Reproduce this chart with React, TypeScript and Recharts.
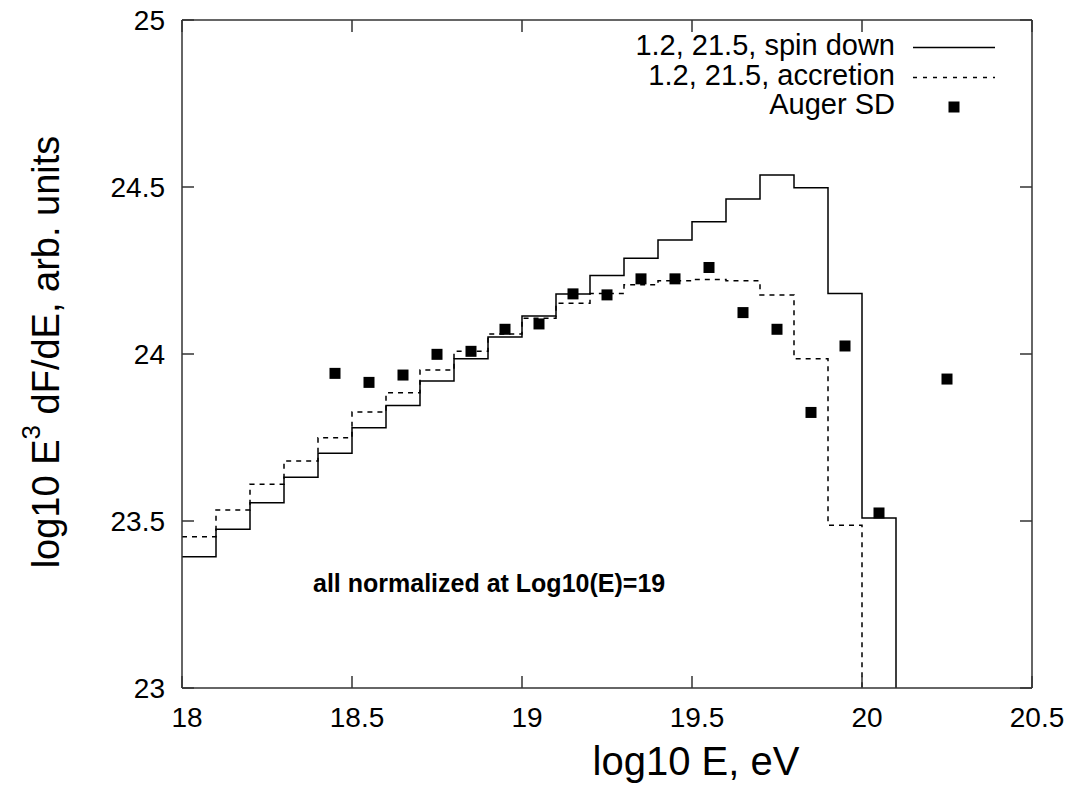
import React from 'react';
import { ComposedChart, Line, Scatter, XAxis, YAxis, Legend } from 'recharts';

// Bin left edges (log10 E) of the model histograms
const spinDownEdges = [18.0, 18.1, 18.2, 18.3, 18.4, 18.5, 18.6, 18.7, 18.8, 18.9, 19.0, 19.1, 19.2, 19.3, 19.4, 19.5, 19.6, 19.7, 19.8, 19.9, 20.0, 20.1];
const spinDownValues = [23.393, 23.475, 23.555, 23.631, 23.703, 23.779, 23.846, 23.919, 23.986, 24.051, 24.114, 24.18, 24.235, 24.287, 24.341, 24.396, 24.464, 24.536, 24.498, 24.181, 23.509, 23.0];

const accretionEdges = [18.0, 18.1, 18.2, 18.3, 18.4, 18.5, 18.6, 18.7, 18.8, 18.9, 19.0, 19.1, 19.2, 19.3, 19.4, 19.5, 19.6, 19.7, 19.8, 19.9, 20.0];
const accretionValues = [23.453, 23.533, 23.61, 23.68, 23.749, 23.826, 23.884, 23.952, 24.008, 24.06, 24.107, 24.152, 24.181, 24.207, 24.219, 24.223, 24.219, 24.177, 23.986, 23.487, 23.0];

const augerX = [18.45, 18.55, 18.65, 18.75, 18.85, 18.95, 19.05, 19.15, 19.25, 19.35, 19.45, 19.55, 19.65, 19.75, 19.85, 19.95, 20.05, 20.25];
const augerY = [23.942, 23.915, 23.937, 23.999, 24.008, 24.074, 24.09, 24.18, 24.177, 24.225, 24.225, 24.259, 24.124, 24.074, 23.825, 24.024, 23.524, 23.925];

const xTicks = [18, 18.5, 19, 19.5, 20, 20.5];
const yTicks = [23, 23.5, 24, 24.5, 25];

const legendLabels = ['1.2, 21.5, spin down', '1.2, 21.5, accretion', 'Auger SD'];
const annotation = 'all normalized at Log10(E)=19';
const xTitle = 'log10 E, eV';

const spinDownData = spinDownEdges.map((x, i) => ({ x, y: spinDownValues[i] }));
const accretionData = accretionEdges.map((x, i) => ({ x, y: accretionValues[i] }));
const augerData = augerX.map((x, i) => ({ x, y: augerY[i] }));

const FONT = '"Liberation Sans", Arial, Helvetica, sans-serif';
const AXIS = '#333';
const TICK_LEN = 12;

const BottomTick = (props: any) => {
  const { x, y, payload } = props;
  return (
    <g>
      <line x1={x} y1={y} x2={x} y2={y - TICK_LEN} stroke={AXIS} strokeWidth={1.5} />
      <text x={x + 5} y={y + 39} textAnchor="middle" fontSize={28} fontFamily={FONT} fill="#000">
        {String(payload.value)}
      </text>
    </g>
  );
};

const TopTick = (props: any) => {
  const { x, y } = props;
  return <line x1={x} y1={y} x2={x} y2={y + TICK_LEN} stroke={AXIS} strokeWidth={1.5} />;
};

const LeftTick = (props: any) => {
  const { x, y, payload } = props;
  return (
    <g>
      <line x1={x} y1={y} x2={x + TICK_LEN} y2={y} stroke={AXIS} strokeWidth={1.5} />
      <text x={x - 17} y={y + 10} textAnchor="end" fontSize={28} fontFamily={FONT} fill="#000">
        {String(payload.value)}
      </text>
    </g>
  );
};

const RightTick = (props: any) => {
  const { x, y } = props;
  return <line x1={x} y1={y} x2={x - TICK_LEN} y2={y} stroke={AXIS} strokeWidth={1.5} />;
};

const SquareDot = (props: any) => {
  const { cx, cy } = props;
  if (cx == null || cy == null) return null;
  return <rect x={cx - 5.5} y={cy - 5.5} width={11} height={11} fill="#000" />;
};

const LegendContent = () => (
  <svg width={1071} height={130} style={{ display: 'block' }}>
    <g fontFamily={FONT} fontSize={29} fill="#000">
      <text x={895} y={55} textAnchor="end">{legendLabels[0]}</text>
      <text x={895} y={85} textAnchor="end">{legendLabels[1]}</text>
      <text x={895} y={114} textAnchor="end">{legendLabels[2]}</text>
    </g>
    <line x1={913} y1={47.5} x2={995} y2={47.5} stroke="#000" strokeWidth={1.5} />
    <line x1={913} y1={77.5} x2={995} y2={77.5} stroke="#000" strokeWidth={1.5} strokeDasharray="4 6" />
    <rect x={948.5} y={101.5} width={11} height={11} fill="#000" />
  </svg>
);

const YTitle = () => (
  <text
    x={59}
    y={352}
    transform="rotate(-90, 59, 352)"
    textAnchor="middle"
    fontSize={38}
    fontFamily={FONT}
    fill="#000"
  >
    log10 E<tspan dy={-19} fontSize={26}>3</tspan>
    <tspan dy={19}> dF/dE, arb. units</tspan>
  </text>
);

const XTitle = () => (
  <text x={696} y={775} textAnchor="middle" fontSize={40} fontFamily={FONT} fill="#000">
    {xTitle}
  </text>
);

export default function App() {
  return (
    <div style={{ position: 'absolute', left: 0, top: 0, width: 1071, height: 785, background: '#fff' }}>
      <ComposedChart
        width={1071}
        height={785}
        margin={{ top: 19, right: 38, bottom: 57, left: 122 }}
      >
        <XAxis
          xAxisId="b"
          type="number"
          dataKey="x"
          domain={[18, 20.5]}
          ticks={xTicks}
          interval={0}
          allowDataOverflow
          height={40}
          tickSize={0}
          tickMargin={0}
          tick={<BottomTick />}
          axisLine={{ stroke: AXIS, strokeWidth: 1.5 }}
          tickLine={false}
          label={<XTitle />}
        />
        <XAxis
          xAxisId="t"
          orientation="top"
          type="number"
          dataKey="x"
          domain={[18, 20.5]}
          ticks={xTicks}
          interval={0}
          allowDataOverflow
          height={1}
          tickSize={0}
          tickMargin={0}
          tick={<TopTick />}
          axisLine={{ stroke: AXIS, strokeWidth: 1.5 }}
          tickLine={false}
        />
        <YAxis
          yAxisId="l"
          type="number"
          domain={[23, 25]}
          ticks={yTicks}
          interval={0}
          allowDataOverflow
          width={60}
          tickSize={0}
          tickMargin={0}
          tick={<LeftTick />}
          axisLine={{ stroke: AXIS, strokeWidth: 1.5 }}
          tickLine={false}
          label={<YTitle />}
        />
        <YAxis
          yAxisId="r"
          orientation="right"
          type="number"
          domain={[23, 25]}
          ticks={yTicks}
          interval={0}
          allowDataOverflow
          width={1}
          tickSize={0}
          tickMargin={0}
          tick={<RightTick />}
          axisLine={{ stroke: AXIS, strokeWidth: 1.5 }}
          tickLine={false}
        />
        <Line
          xAxisId="b"
          yAxisId="l"
          data={spinDownData}
          dataKey="y"
          type="stepAfter"
          stroke="#000"
          strokeWidth={1.5}
          dot={false}
          activeDot={false}
          isAnimationActive={false}
          name={legendLabels[0]}
        />
        <Line
          xAxisId="b"
          yAxisId="l"
          data={accretionData}
          dataKey="y"
          type="stepAfter"
          stroke="#000"
          strokeWidth={1.5}
          strokeDasharray="5 5"
          dot={false}
          activeDot={false}
          isAnimationActive={false}
          name={legendLabels[1]}
        />
        <Scatter
          xAxisId="b"
          yAxisId="l"
          data={augerData}
          dataKey="y"
          shape={<SquareDot />}
          fill="#000"
          isAnimationActive={false}
          name={legendLabels[2]}
        />
        <Legend
          layout="vertical"
          align="center"
          verticalAlign="middle"
          wrapperStyle={{ position: 'absolute', top: 0, left: 0, width: 1071, height: 130 }}
          content={<LegendContent />}
        />
      </ComposedChart>
      <svg
        width={1071}
        height={785}
        style={{ position: 'absolute', left: 0, top: 0, pointerEvents: 'none' }}
      >
        <text x={313} y={592} fontSize={25} fontWeight="bold" fontFamily={FONT} fill="#000">
          {annotation}
        </text>
      </svg>
    </div>
  );
}
